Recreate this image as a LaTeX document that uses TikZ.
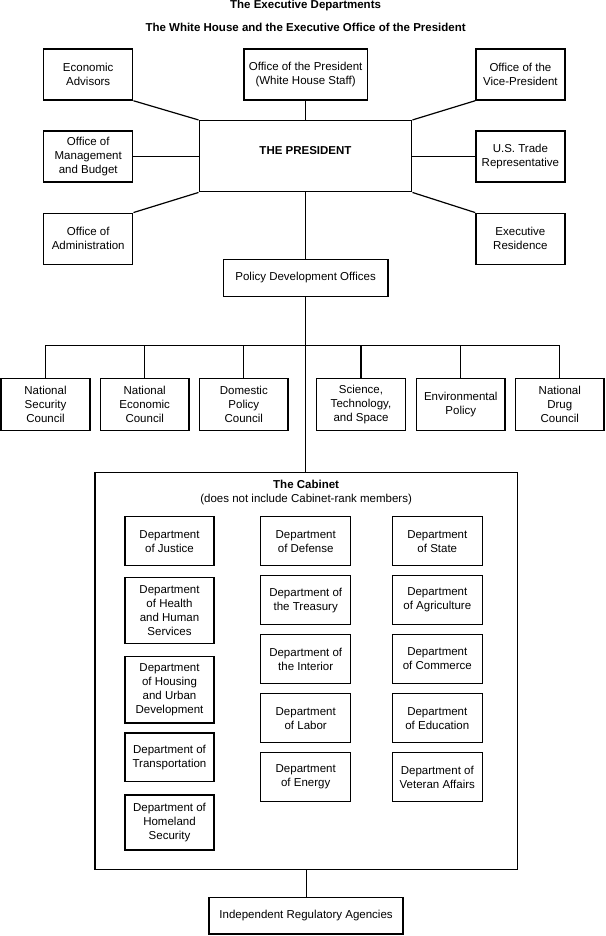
\documentclass[tikz,border=0pt]{standalone}
\usepackage{fontspec}
\setmainfont{Liberation Sans}
\newcommand{\fsz}{\fontsize{11.5}{14}\selectfont}
\begin{document}
\begin{tikzpicture}[x=1pt,y=-1pt,
  box/.style={draw, line width=1.5pt, align=center, inner sep=0pt, font=\fsz},
  sbox/.style={box, minimum width=89, minimum height=51},
  council/.style={box, minimum width=88.7, minimum height=52},
  dept/.style={box, minimum width=90, minimum height=49},
  conn/.style={line width=1.2pt},
  title/.style={font=\fsz\bfseries, inner sep=0pt}]
\useasboundingbox (0,0) rectangle (605,936);
% titles
\node[title, anchor=base] (t1) at (305.6,9) {The Executive Departments};
\node[title, anchor=base] (t2) at (305.6,31.8) {The White House and the Executive Office of the President};
% president area
\node[box, minimum width=212.4, minimum height=71] (pres) at (305.5,156.2) {};
\node[title] (prest) at (305.5,151) {THE PRESIDENT};
\node[sbox] (econ) at (88.2,74.5) {Economic\\Advisors};
\node[box, minimum width=123.5, minimum height=51] (op) at (305.6,74.5) {Office of the President\\(White House Staff)};
\node[sbox] (vp) at (520.4,74.5) {Office of the\\Vice-President};
\node[sbox] (omb) at (88.2,156.6) {Office of\\Management\\and Budget};
\node[sbox] (ustr) at (520.4,156.6) {U.S. Trade\\Representative};
\node[sbox] (adm) at (88.2,238.8) {Office of\\Administration};
\node[sbox] (res) at (520.4,238.8) {Executive\\Residence};
\node[box, minimum width=164.7, minimum height=37.4] (pdo) at (305.6,278) {Policy Development Offices};
\draw[conn] (econ.south east) -- (pres.north west);
\draw[conn] (op.south) -- (op.south |- pres.north);
\draw[conn] (vp.south west) -- (pres.north east);
\draw[conn] (omb.east) -- (omb.east -| pres.west);
\draw[conn] (ustr.west) -- (ustr.west -| pres.east);
\draw[conn] (adm.north east) -- (pres.south west);
\draw[conn] (res.north west) -- (pres.south east);
\draw[conn] (pres.south -| pdo.north) -- (pdo.north);
% councils
\node[council] (nsc) at (45.5,404.5) {National\\Security\\Council};
\node[council] (nec) at (144.7,404.5) {National\\Economic\\Council};
\node[council] (dpc) at (243.8,404.5) {Domestic\\Policy\\Council};
\node[council] (sts) at (361,404.5) {Science,\\Technology,\\and Space};
\node[council] (env) at (460.8,404.5) {Environmental\\Policy};
\node[council] (ndc) at (559.8,404.5) {National\\Drug\\Council};
\coordinate (bus) at (305.6,345.2);
\draw[conn] (nsc.north) |- (bus) -| (ndc.north);
\foreach \n in {nec,dpc,sts,env} \draw[conn] (\n.north) -- (\n.north |- bus);
% cabinet
\node[box, minimum width=422.3, minimum height=396.6] (cab) at (306.1,671) {};
\node[font=\fsz, align=center, inner sep=0pt] (cabt) at (306.1,492.3) {\textbf{The Cabinet}\\(does not include Cabinet-rank members)};
\draw[conn] (pdo.south) -- (pdo.south |- cab.north);
\node[dept, minimum width=89] (jus) at (169.5,541.2) {Department\\of Justice};
\node[dept, minimum width=89, minimum height=66] (hhs) at (169.5,610.7) {Department\\of Health\\and Human\\Services};
\node[dept, minimum width=89, minimum height=66.3] (hud) at (169.5,689.8) {Department\\of Housing\\and Urban\\Development};
\node[dept, minimum width=89, minimum height=48.7] (tra) at (169.5,757.3) {Department of\\Transportation};
\node[dept, minimum width=89, minimum height=55] (hom) at (169.5,822.5) {Department of\\Homeland\\Security};
\node[dept] (def) at (305.7,541.2) {Department\\of Defense};
\node[dept] (tre) at (305.7,600.2) {Department of\\the Treasury};
\node[dept] (int) at (305.7,659) {Department of\\the Interior};
\node[dept] (lab) at (305.7,718.2) {Department\\of Labor};
\node[dept] (ene) at (305.7,777.2) {Department\\of Energy};
\node[dept] (sta) at (437.3,541.2) {Department\\of State};
\node[dept] (agr) at (437.3,600.2) {Department\\of Agriculture};
\node[dept] (com) at (437.3,659) {Department\\of Commerce};
\node[dept] (edu) at (437.3,718.2) {Department\\of Education};
\node[dept] (vet) at (437.3,777.2) {Department of\\Veteran Affairs};
% independent agencies
\node[box, minimum width=194, minimum height=36.3] (ira) at (306.1,915.8) {Independent Regulatory Agencies};
\draw[conn] (ira.north |- cab.south) -- (ira.north);
\end{tikzpicture}
\end{document}
